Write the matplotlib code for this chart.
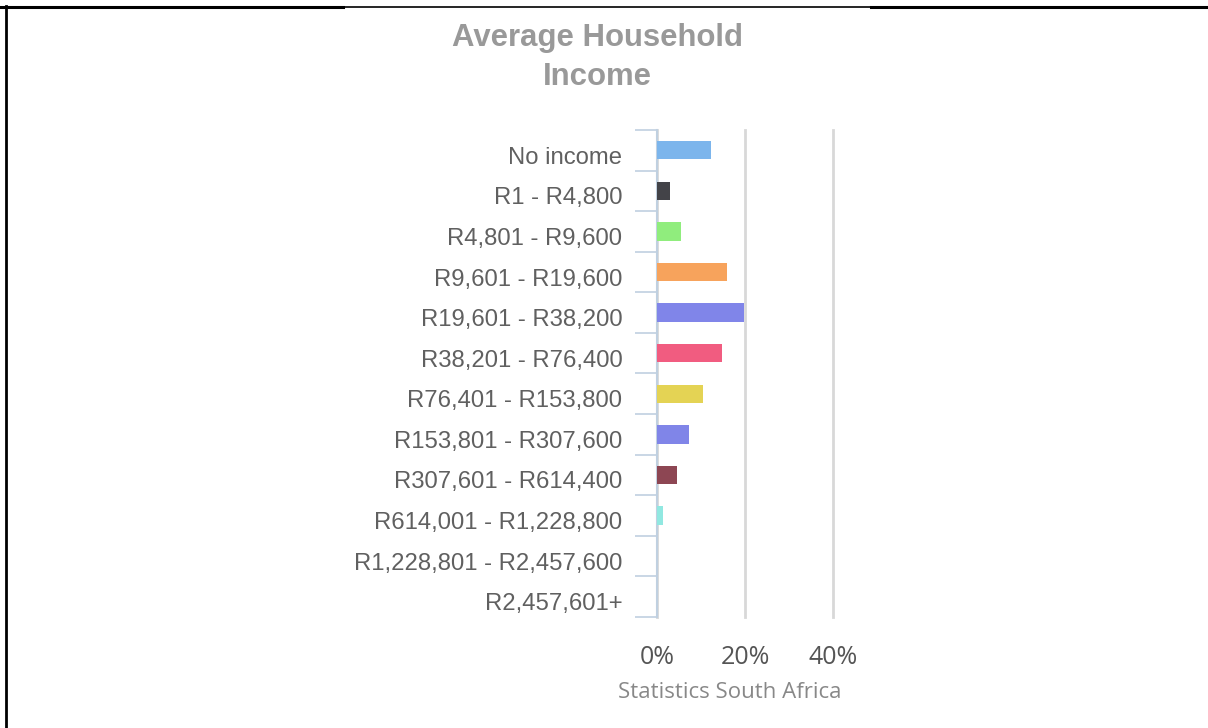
import matplotlib
matplotlib.use("Agg")
import matplotlib.pyplot as plt
from matplotlib.lines import Line2D
import matplotlib.transforms as mtransforms

# data (percent of households)
categories = [
    "No income", "R1 - R4,800", "R4,801 - R9,600", "R9,601 - R19,600",
    "R19,601 - R38,200", "R38,201 - R76,400", "R76,401 - R153,800",
    "R153,801 - R307,600", "R307,601 - R614,400", "R614,001 - R1,228,800",
    "R1,228,801 - R2,457,600", "R2,457,601+",
]
shares = [12.2, 3.0, 5.5, 16.0, 19.8, 14.8, 10.5, 7.3, 4.6, 1.3, 0.1, 0.1]
colors = ["#7cb5ec", "#434348", "#90ed7d", "#f7a35c", "#8085e9", "#f15c80",
          "#e4d354", "#8085e8", "#8d4653", "#91e8e1", "#7cb5ec", "#434348"]
xticks = [0, 20, 40]
xtick_labels = ["0%", "20%", "40%"]

W, H = 1208, 728
fig = plt.figure(figsize=(W / 100, H / 100), dpi=100)
fig.patch.set_facecolor("white")

# plot area in pixels: x 657..833, y 130..617
ax = fig.add_axes([657 / W, 1 - 617 / H, 176 / W, 487 / H])
n = len(categories)
ypos = list(range(n))
ax.barh(ypos, shares, height=0.45, color=colors, zorder=3)
ax.set_ylim(n - 0.5, -0.5)
ax.set_xlim(0, 40)

ax.set_xticks(xticks)
ax.set_xticklabels(xtick_labels, family="Open Sans", fontsize=18, color="#555555")
ax.tick_params(axis="x", length=0, pad=20)
ax.xaxis.grid(True, color="#d8d8d8", lw=2, zorder=0)
for gl in ax.get_xgridlines():
    gl.set_clip_on(False)

# category labels between boundary ticks
ax.set_yticks([i - 0.5 for i in range(n + 1)])
ax.set_yticklabels([])
ax.set_yticks(ypos, minor=True)
ax.set_yticklabels(categories, minor=True, family="Liberation Sans",
                   fontsize=17.2, color="#606060")
ax.tick_params(axis="y", which="major", length=16, width=1.2, color="#c0d0e0")
ax.tick_params(axis="y", which="minor", length=0, pad=25)
shift = mtransforms.ScaledTranslation(0, -5 / 100, fig.dpi_scale_trans)
for lab in ax.get_yticklabels(minor=True):
    lab.set_transform(lab.get_transform() + shift)

for side in ["top", "right", "bottom"]:
    ax.spines[side].set_visible(False)
ax.spines["left"].set_color("#c0d0e0")
ax.spines["left"].set_linewidth(1.5)

fig.text(597 / W, 1 - 38 / H, "Average Household", ha="center", va="center",
         family="Liberation Sans", fontweight="bold", fontsize=22.4, color="#999999")
fig.text(597 / W, 1 - 77 / H, "Income", ha="center", va="center",
         family="Liberation Sans", fontweight="bold", fontsize=22.4, color="#999999")
fig.text(730 / W, 1 - 692 / H, "Statistics South Africa", ha="center", va="center",
         family="Open Sans", fontsize=16, color="#888888")

# page border pieces
def px(x, y):
    return x / W, 1 - y / H

for (x0, x1, lw) in [(0, 343, 2.2), (343, 871, 1.2), (871, W, 2.2)]:
    (a, b), (c, d) = px(x0, 7), px(x1, 7)
    fig.add_artist(Line2D([a, c], [b, d], color="black", lw=lw))
(a, b), (c, d) = px(6, 6), px(6, H)
fig.add_artist(Line2D([a, c], [b, d], color="black", lw=2.0))

fig.savefig("out.png", dpi=100)
